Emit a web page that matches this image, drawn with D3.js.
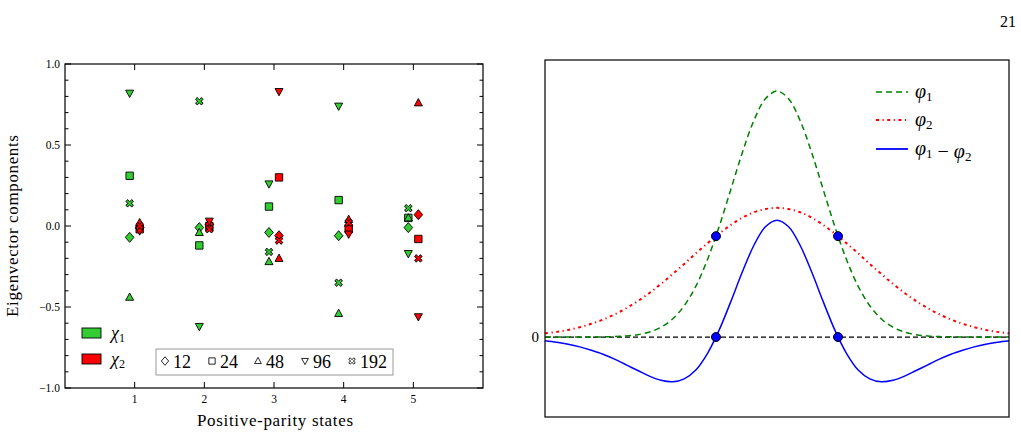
<!DOCTYPE html>
<html><head><meta charset="utf-8">
<script src="https://cdn.jsdelivr.net/npm/d3@7"></script>
<style>body{margin:0;background:#fff}svg{display:block}text{font-family:"Liberation Serif","DejaVu Serif",serif;fill:#000}</style>
</head><body>
<svg id="c" width="1021" height="437"></svg>
<script>
// ---------- Left panel data ----------
const states = [1, 2, 3, 4, 5];
const sizeLabels = ["12", "24", "48", "96", "192"];
const yTickLabels = ["1.0", "0.5", "0.0", "−0.5", "−1.0"];
const yTickValues = [1.0, 0.5, 0.0, -0.5, -1.0];
const chi1_12  = [-0.07, -0.01, -0.04, -0.06, -0.01];
const chi1_24  = [0.31, -0.12, 0.12, 0.16, 0.05];
const chi1_48  = [-0.44, -0.04, -0.22, -0.54, 0.05];
const chi1_96  = [0.82, -0.62, 0.26, 0.74, -0.17];
const chi1_192 = [0.14, 0.77, -0.16, -0.35, 0.11];
const chi2_12  = [-0.01, 0.01, -0.06, 0.00, 0.07];
const chi2_24  = [-0.02, 0.00, 0.30, -0.02, -0.08];
const chi2_48  = [0.02, -0.01, -0.20, 0.04, 0.76];
const chi2_96  = [-0.03, 0.03, 0.83, -0.05, -0.56];
const chi2_192 = [0.00, -0.02, -0.09, 0.02, -0.20];

// ---------- Right panel data ----------
const xs   = [-5,-4.75,-4.5,-4.25,-4,-3.75,-3.5,-3.25,-3,-2.75,-2.5,-2.25,-2,-1.75,-1.5,-1.25,-1,-0.75,-0.5,-0.25,0,
              0.25,0.5,0.75,1,1.25,1.5,1.75,2,2.25,2.5,2.75,3,3.25,3.5,3.75,4,4.25,4.5,4.75,5];
const phi1 = [0,0,0,0.0001,0.0003,0.0007,0.0018,0.0043,0.0097,0.0203,0.040,0.0735,0.127,0.206,0.314,0.447,0.597,0.748,0.879,0.968,1,
              0.968,0.879,0.748,0.597,0.447,0.314,0.206,0.127,0.0735,0.040,0.0203,0.0097,0.0043,0.0018,0.0007,0.0003,0.0001,0,0,0];
const phi2 = [0.015,0.021,0.029,0.040,0.054,0.071,0.092,0.117,0.146,0.179,0.216,0.256,0.297,0.340,0.381,0.420,0.455,0.485,0.507,0.520,0.525,
              0.520,0.507,0.485,0.455,0.420,0.381,0.340,0.297,0.256,0.216,0.179,0.146,0.117,0.092,0.071,0.054,0.040,0.029,0.021,0.015];
const diff = [-0.015,-0.021,-0.029,-0.040,-0.054,-0.070,-0.090,-0.113,-0.136,-0.159,-0.176,-0.182,-0.170,-0.134,-0.067,0.027,0.142,0.263,0.372,0.448,0.475,
              0.448,0.372,0.263,0.142,0.027,-0.067,-0.134,-0.170,-0.182,-0.176,-0.159,-0.136,-0.113,-0.090,-0.070,-0.054,-0.040,-0.029,-0.021,-0.015];
const crossX = [-1.315, 1.315];
const crossY = [0.41, 0.41];

const svg = d3.select("#c");
const GREEN = "#33cc33", RED = "#ff0000";

svg.append("text").attr("x", 1016).attr("y", 27).attr("text-anchor", "end").style("font-size", "16px").text("21");

// ===== Left panel =====
const L = {x0: 65, x1: 483, y0: 64, y1: 388};
const x = d3.scaleLinear().domain([0, 6]).range([L.x0, L.x1]);
const y = d3.scaleLinear().domain([-1, 1]).range([L.y1, L.y0]);
const gl = svg.append("g");

const minor = d3.range(-10, 11).map(d => d / 10);
minor.forEach(v => {
  const major = Math.abs(v * 2 - Math.round(v * 2)) < 1e-6;
  const len = major ? 6 : 3.5;
  gl.append("line").attr("x1", L.x0).attr("x2", L.x0 + len).attr("y1", y(v)).attr("y2", y(v)).attr("stroke", "#000");
  gl.append("line").attr("x1", L.x1).attr("x2", L.x1 - len).attr("y1", y(v)).attr("y2", y(v)).attr("stroke", "#000");
});
states.forEach(s => {
  gl.append("line").attr("x1", x(s)).attr("x2", x(s)).attr("y1", L.y1).attr("y2", L.y1 - 6).attr("stroke", "#000");
  gl.append("line").attr("x1", x(s)).attr("x2", x(s)).attr("y1", L.y0).attr("y2", L.y0 + 6).attr("stroke", "#000");
});
gl.append("rect").attr("x", L.x0).attr("y", L.y0).attr("width", L.x1 - L.x0).attr("height", L.y1 - L.y0).attr("fill", "none").attr("stroke", "#000").attr("stroke-width", 1.2);

yTickValues.forEach((v, i) => {
  gl.append("text").attr("x", L.x0 - 5).attr("y", y(v) + 4).attr("text-anchor", "end").style("font-size", "11.5px").text(yTickLabels[i]);
});
states.forEach(s => {
  gl.append("text").attr("x", x(s)).attr("y", L.y1 + 15).attr("text-anchor", "middle").style("font-size", "11.5px").text(s);
});
gl.append("text").attr("x", 275).attr("y", 426).attr("text-anchor", "middle").style("font-size", "17px")
  .attr("textLength", 156).attr("lengthAdjust", "spacing").text("Positive-parity states");
gl.append("text").attr("transform", `translate(18,${(L.y0 + L.y1) / 2}) rotate(-90)`).attr("text-anchor", "middle").style("font-size", "17px")
  .attr("textLength", 182).attr("lengthAdjust", "spacing").text("Eigenvector components");

const xPath = (() => {
  const a = 1.5, b = 3.8;
  return `M${-b},${-b + a * 1.4}L${-a * 1.4},${-b}L0,${-a}L${a * 1.4},${-b}L${b},${-b + a * 1.4}L${a},0L${b},${b - a * 1.4}L${a * 1.4},${b}L0,${a}L${-a * 1.4},${b}L${-b},${b - a * 1.4}L${-a},0Z`;
})();
function markerPath(k){
  if (k === 0) return "M0,-5L4.3,0L0,5L-4.3,0Z";
  if (k === 1) return "M-3.7,-3.7H3.7V3.7H-3.7Z";
  if (k === 2) return "M0,-4.3L4,3L-4,3Z";
  if (k === 3) return "M0,4.3L4,-3L-4,-3Z";
  return xPath;
}
const chi1 = [chi1_12, chi1_24, chi1_48, chi1_96, chi1_192];
const chi2 = [chi2_12, chi2_24, chi2_48, chi2_96, chi2_192];
const off = 0.072;
for (let k = 0; k < 5; k++){
  [[chi1[k], GREEN, -off], [chi2[k], RED, off]].forEach(([vals, col, o]) => {
    gl.selectAll(null).data(vals).enter().append("path")
      .attr("d", markerPath(k))
      .attr("transform", (v, i) => `translate(${x(states[i] + o)},${y(v)})`)
      .attr("fill", col).attr("stroke", "#000").attr("stroke-width", 0.9);
  });
}

// chi legend
[["χ", "1", GREEN, 333], ["χ", "2", RED, 359]].forEach(([c, sub, col, yy]) => {
  gl.append("rect").attr("x", 82).attr("y", yy - 5).attr("width", 19).attr("height", 10).attr("fill", col).attr("stroke", "#000").attr("stroke-width", 0.9);
  const t = gl.append("text").attr("x", 111).attr("y", yy + 6).style("font-size", "18px").style("font-style", "italic");
  t.append("tspan").text(c);
  t.append("tspan").attr("dy", 3).style("font-size", "12px").style("font-style", "normal").text(sub);
});

// size legend box
gl.append("rect").attr("x", 156).attr("y", 349).attr("width", 237).attr("height", 26).attr("fill", "#fff").attr("stroke", "#999").attr("stroke-width", 1);
const legX = [165, 212, 258, 305, 352];
sizeLabels.forEach((s, k) => {
  gl.append("path").attr("d", markerPath(k)).attr("transform", `translate(${legX[k]},361) scale(0.85)`).attr("fill", "#fff").attr("stroke", "#000").attr("stroke-width", 1);
  gl.append("text").attr("x", legX[k] + 8).attr("y", 368).style("font-size", "18px").text(s);
});

// ===== Right panel =====
const R = {x0: 545, x1: 1009, y0: 60, y1: 417};
const xr = d3.scaleLinear().domain([-5, 5]).range([R.x0, R.x1]);
const yr = d3.scaleLinear().domain([-0.325, 1.126]).range([R.y1, R.y0]);
const gr = svg.append("g");
const line = d3.line().x((d, i) => xr(xs[i])).y(d => yr(d)).curve(d3.curveCatmullRom.alpha(0.5));

gr.append("line").attr("x1", R.x0).attr("x2", R.x1).attr("y1", yr(0)).attr("y2", yr(0)).attr("stroke", "#000").attr("stroke-width", 1.2).attr("stroke-dasharray", "5,3");
gr.append("path").datum(phi2).attr("d", line).attr("fill", "none").attr("stroke", RED).attr("stroke-width", 2).attr("stroke-dasharray", "3,3.5,1.2,3.5");
gr.append("path").datum(phi1).attr("d", line).attr("fill", "none").attr("stroke", "#008000").attr("stroke-width", 1.5).attr("stroke-dasharray", "6,4");
gr.append("path").datum(diff).attr("d", line).attr("fill", "none").attr("stroke", "#0000ff").attr("stroke-width", 1.5);

crossX.forEach((cx, i) => {
  [crossY[i], 0].forEach(cy => {
    gr.append("circle").attr("cx", xr(cx)).attr("cy", yr(cy)).attr("r", 4.5).attr("fill", "#0000ff").attr("stroke", "#000").attr("stroke-width", 1);
  });
});

gr.append("rect").attr("x", R.x0).attr("y", R.y0).attr("width", R.x1 - R.x0).attr("height", R.y1 - R.y0).attr("fill", "none").attr("stroke", "#000").attr("stroke-width", 1.2);
gr.append("text").attr("x", R.x0 - 6).attr("y", yr(0) + 5).attr("text-anchor", "end").style("font-size", "15px").text("0");

const legItems = [
  {col: "#008000", dash: "6,4", w: 1.5, y: 92, parts: [["φ", "1"]]},
  {col: RED, dash: "3,3.5,1.2,3.5", w: 2, y: 120, parts: [["φ", "2"]]},
  {col: "#0000ff", dash: null, w: 1.8, y: 149, parts: [["φ", "1"], [" − ", null], ["φ", "2"]]}
];
legItems.forEach(it => {
  gr.append("line").attr("x1", 876).attr("x2", 908).attr("y1", it.y).attr("y2", it.y).attr("stroke", it.col).attr("stroke-width", it.w).attr("stroke-dasharray", it.dash);
  const t = gr.append("text").attr("x", 915).attr("y", it.y + 6).style("font-size", "20px");
  it.parts.forEach(([a, sub]) => {
    if (sub === null) { t.append("tspan").text(a); return; }
    t.append("tspan").style("font-style", "italic").text(a);
    t.append("tspan").attr("dy", 3).style("font-size", "13px").text(sub);
    t.append("tspan").attr("dy", -3).text("");
  });
});
</script>
</body></html>
